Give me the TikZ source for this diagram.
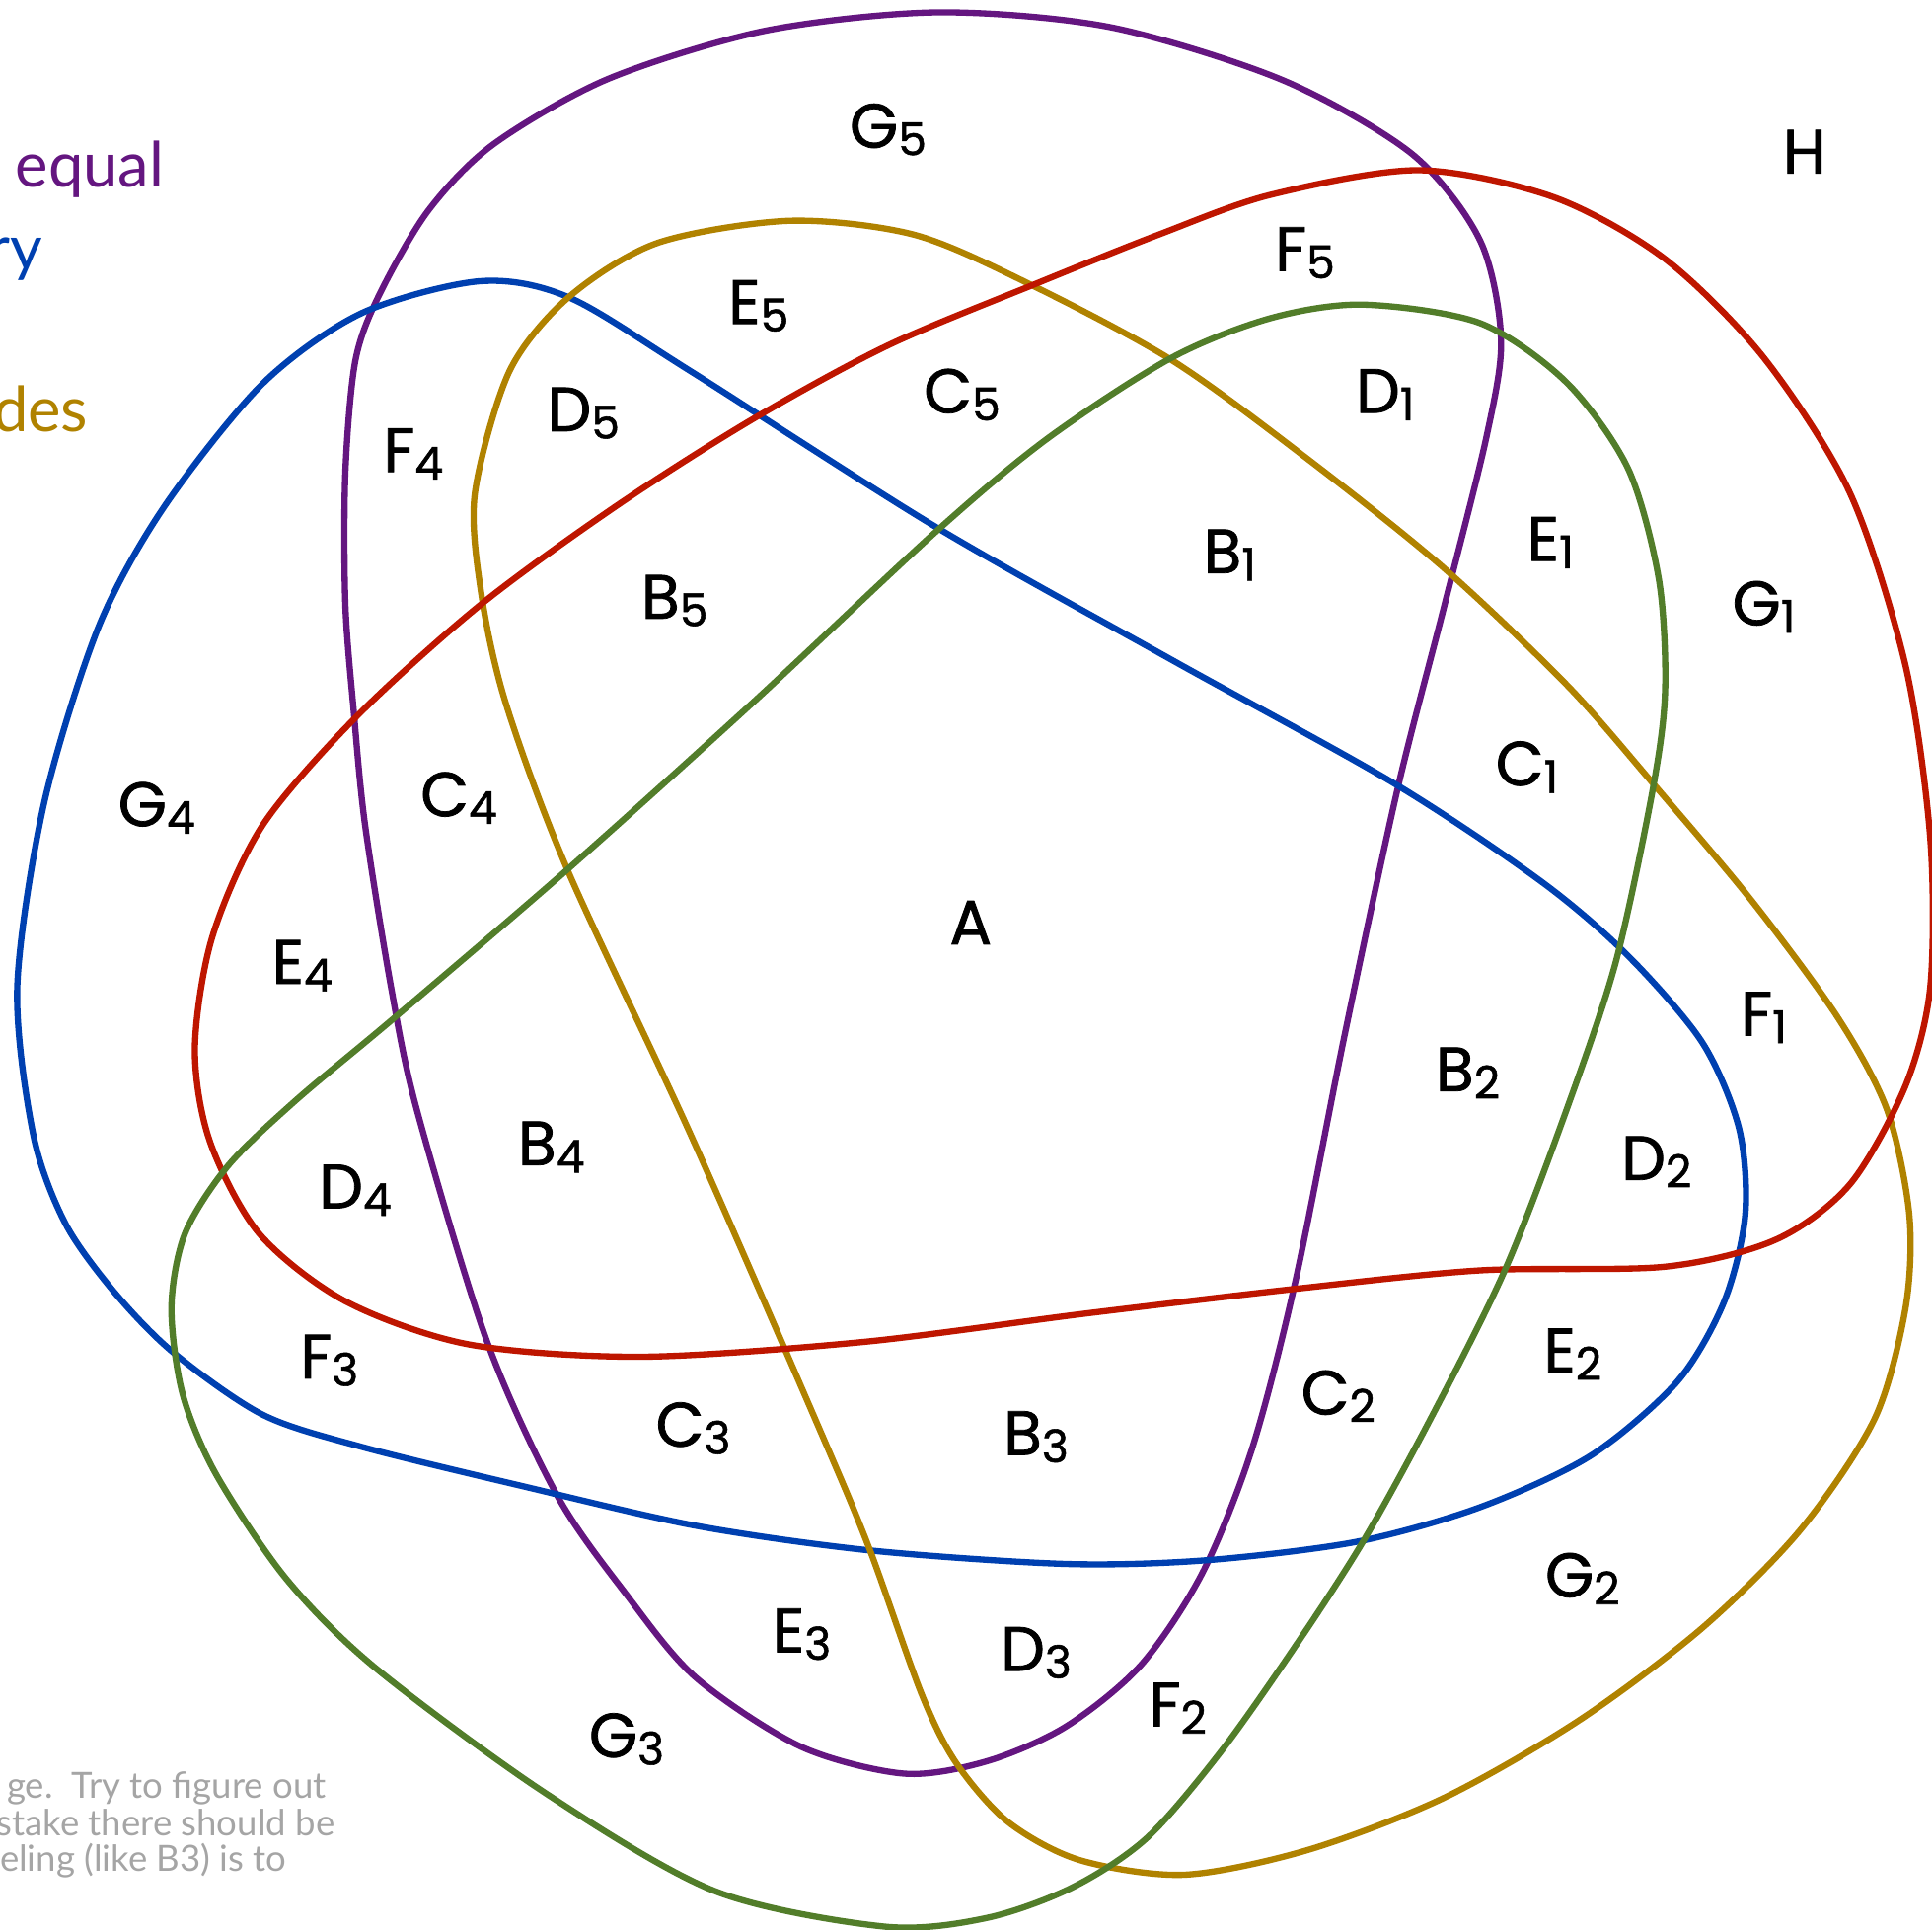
\documentclass[tikz,border=0pt]{standalone}
\usepackage{fontspec}
\setmainfont{Lato}
\newfontfamily\labfont[FakeBold=1.2]{Poppins}

\definecolor{vpurple}{RGB}{100,22,128}
\definecolor{vblue}{RGB}{0,64,176}
\definecolor{vgold}{RGB}{176,130,0}
\definecolor{vred}{RGB}{190,22,0}
\definecolor{vgreen}{RGB}{82,125,42}
\definecolor{notegray}{RGB}{165,165,165}

% region name with a lowered small digit
\newcommand{\regname}[2]{#1\raisebox{-0.12em}{\fontsize{13}{13}\selectfont #2}}

\begin{document}
\begin{tikzpicture}[
    x=0.0125cm, y=-0.0125cm,
    setline/.style={line width=1.8pt, line join=round},
    region/.style={font=\labfont\fontsize{18}{18}\selectfont, inner sep=0pt},
    sidetext/.style={font=\fontsize{18}{20}\selectfont, inner sep=0pt},
    note/.style={font=\fontsize{10.4}{12}\selectfont, text=notegray, inner sep=0pt}
]

\clip (0,0) rectangle (1566.4,1564.8);

% Five curves
\draw[setline, vpurple] plot[smooth cycle] coordinates {
    (760,10) (900,22) (1040,65) (1145,125) (1200,195) (1217,275) (1205,355)
    (1170,495) (1133,640) (1090,840) (1050,1040) (1015,1175) (975,1275)
    (925,1350) (864,1400) (800,1428) (733,1438) (649,1416) (564,1360)
    (508,1293) (452,1213) (395,1088) (338,900) (317,800) (296,669)
    (287,579) (280,490) (280,383) (288,293) (307,240) (347,171) (400,117)
    (493,64) (620,25)};

\draw[setline, vblue] plot[smooth cycle] coordinates {
    (389,228) (461,241) (560,301) (760,428) (950,535) (1130,635) (1250,715)
    (1320,775) (1380,845) (1410,915) (1415,985) (1398,1055) (1360,1120)
    (1290,1180) (1200,1222) (1100,1250) (978,1265) (864,1268) (705,1257)
    (564,1237) (424,1205) (293,1173) (213,1147) (141,1097) (93,1048)
    (53,992) (27,920) (14,800) (36,650) (80,508) (133,411) (213,311)
    (293,254)};

\draw[setline, vgold] plot[smooth cycle] coordinates {
    (640,179) (740,190) (830,228) (950,292) (1060,372) (1170,460) (1270,555)
    (1340,635) (1420,730) (1490,825) (1530,900) (1548,985) (1545,1060)
    (1520,1150) (1460,1240) (1380,1320) (1280,1395) (1170,1458) (1060,1500)
    (960,1520) (875,1508) (817,1477) (775,1429) (747,1373) (705,1256)
    (665,1160) (560,920) (460,705) (410,570) (390,480) (385,400) (413,301)
    (461,241) (533,197)};

\draw[setline, vred] plot[smooth cycle] coordinates {
    (1150,138) (1260,160) (1350,210) (1430,290) (1500,400) (1545,540)
    (1565,680) (1565,800) (1545,880) (1500,960) (1440,1005) (1350,1027)
    (1200,1030) (1050,1045) (880,1065) (700,1088) (520,1100) (380,1090)
    (280,1055) (210,1000) (170,925) (158,850) (172,760) (213,669) (290,580)
    (390,490) (500,410) (610,340) (720,280) (840,230) (940,190) (1030,158)};

\draw[setline, vgreen] plot[smooth cycle] coordinates {
    (1105,247) (1200,262) (1270,310) (1320,380) (1345,470) (1350,560)
    (1340,640) (1310,780) (1270,900) (1220,1030) (1160,1150) (1105,1250)
    (1050,1335) (990,1420) (930,1490) (870,1530) (800,1555) (717,1562)
    (579,1533) (441,1453) (304,1352) (232,1280) (175,1195) (148,1130)
    (139,1060) (150,1000) (185,945) (240,892) (320,825) (460,705) (610,570)
    (760,430) (850,355) (950,290) (1030,258)};

% Region labels
\node[region] (rA) at (787,748) {A};
\node[region] (rH) at (1463,123) {H};
\foreach \l/\s/\x/\y in {
    G/5/720/105, F/5/1058/205, E/5/615/248, C/5/780/320, D/1/1123/320,
    D/5/473/335, F/4/335/368, B/5/547/487, B/1/997/450, E/1/1257/440,
    G/1/1430/492, C/1/1238/622, C/4/372/647, G/4/127/655, E/4/245/783,
    F/1/1430/825, B/2/1190/870, D/2/1343/942, B/4/447/930, D/4/288/965,
    F/3/267/1103, E/2/1275/1098, C/2/1085/1132, C/3/562/1158, B/3/840/1165,
    G/2/1283/1280, E/3/650/1325, D/3/840/1340, F/2/955/1385, G/3/508/1410}
    \node[region] (r\l\s) at (\x,\y) {\regname{\l}{\s}};

% Cut-off side texts
\node[sidetext, text=vpurple, anchor=base west] (tpurple) at (12,152) {equal};
\node[sidetext, text=vblue, anchor=base east] (tblue) at (35,219) {ry};
\node[sidetext, text=vgold, anchor=base east] (tgold) at (72,350) {des};

% Note
\node[note, anchor=base east] (nA) at (265,1458) {ge.\ \ Try to figure out};
\node[note, anchor=base east] (nB) at (272,1488) {stake there should be};
\node[note, anchor=base east] (nC) at (233,1517) {eling (like B3) is to};

\end{tikzpicture}
\end{document}
